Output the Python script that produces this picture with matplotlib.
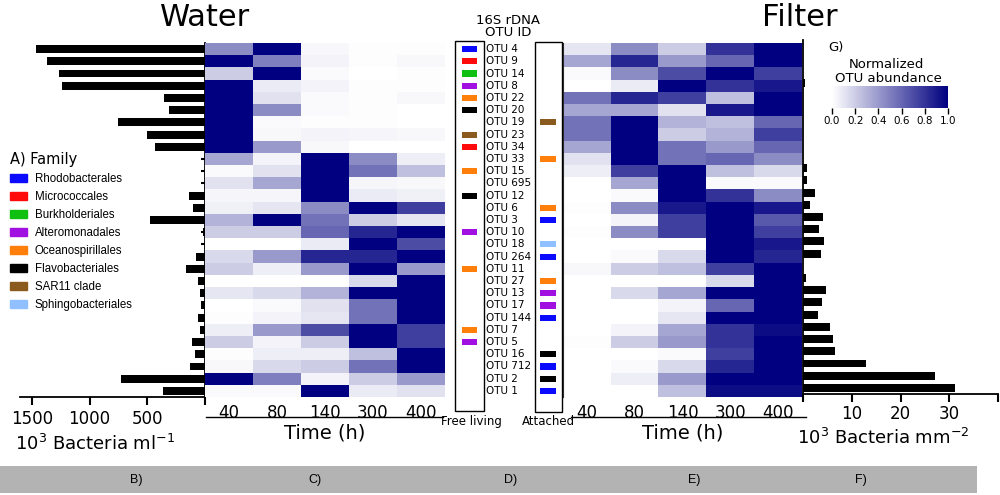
import numpy as np
import matplotlib.pyplot as plt
from matplotlib.colors import LinearSegmentedColormap, Normalize
from matplotlib.cm import ScalarMappable
from matplotlib.patches import Patch, Rectangle

otus = ['OTU 4', 'OTU 9', 'OTU 14', 'OTU 8', 'OTU 22', 'OTU 20', 'OTU 19', 'OTU 23',
        'OTU 34', 'OTU 33', 'OTU 15', 'OTU 695', 'OTU 12', 'OTU 6', 'OTU 3', 'OTU 10',
        'OTU 18', 'OTU 264', 'OTU 11', 'OTU 27', 'OTU 13', 'OTU 17', 'OTU 144', 'OTU 7',
        'OTU 5', 'OTU 16', 'OTU 712', 'OTU 2', 'OTU 1']
times = ['40', '80', '140', '300', '400']

# normalized abundance, water (free living)
water = np.array([
    [0.45, 1.00, 0.03, 0.01, 0.01],
    [1.00, 0.50, 0.05, 0.01, 0.03],
    [0.20, 1.00, 0.02, 0.00, 0.01],
    [1.00, 0.08, 0.05, 0.01, 0.01],
    [1.00, 0.12, 0.02, 0.01, 0.03],
    [1.00, 0.45, 0.02, 0.01, 0.00],
    [1.00, 0.02, 0.01, 0.01, 0.00],
    [1.00, 0.03, 0.05, 0.04, 0.03],
    [1.00, 0.40, 0.03, 0.00, 0.00],
    [0.35, 0.05, 1.00, 0.45, 0.07],
    [0.02, 0.12, 1.00, 0.55, 0.25],
    [0.12, 0.35, 1.00, 0.04, 0.03],
    [0.04, 0.04, 1.00, 0.08, 0.06],
    [0.06, 0.10, 0.45, 1.00, 0.75],
    [0.30, 1.00, 0.55, 0.20, 0.10],
    [0.20, 0.20, 0.60, 0.85, 1.00],
    [0.00, 0.00, 0.08, 1.00, 0.70],
    [0.15, 0.40, 0.85, 0.85, 1.00],
    [0.20, 0.07, 0.40, 1.00, 0.40],
    [0.00, 0.00, 0.00, 0.15, 1.00],
    [0.10, 0.15, 0.30, 1.00, 1.00],
    [0.00, 0.02, 0.12, 0.55, 1.00],
    [0.01, 0.05, 0.10, 0.55, 1.00],
    [0.07, 0.40, 0.70, 1.00, 0.75],
    [0.20, 0.05, 0.20, 1.00, 0.75],
    [0.01, 0.07, 0.07, 0.25, 1.00],
    [0.03, 0.15, 0.20, 0.55, 1.00],
    [1.00, 0.50, 0.05, 0.20, 0.40],
    [0.02, 0.02, 1.00, 0.08, 0.12],
])

# normalized abundance, filter (attached)
filt = np.array([
    [0.10, 0.45, 0.20, 0.80, 1.00],
    [0.35, 0.85, 0.40, 0.60, 1.00],
    [0.02, 0.45, 0.70, 1.00, 0.75],
    [0.00, 0.08, 1.00, 0.80, 0.90],
    [0.55, 0.85, 0.75, 0.25, 1.00],
    [0.35, 0.35, 0.12, 0.90, 1.00],
    [0.55, 1.00, 0.30, 0.25, 0.60],
    [0.55, 1.00, 0.20, 0.30, 0.75],
    [0.35, 1.00, 0.55, 0.40, 0.60],
    [0.12, 1.00, 0.55, 0.60, 0.45],
    [0.07, 0.75, 1.00, 0.25, 0.15],
    [0.00, 0.35, 1.00, 0.02, 0.02],
    [0.00, 0.02, 1.00, 0.80, 0.45],
    [0.01, 0.45, 0.90, 1.00, 0.90],
    [0.00, 0.05, 0.75, 1.00, 0.65],
    [0.01, 0.45, 0.75, 1.00, 0.75],
    [0.00, 0.00, 0.00, 1.00, 0.90],
    [0.00, 0.02, 0.15, 1.00, 0.85],
    [0.03, 0.20, 0.25, 0.75, 1.00],
    [0.00, 0.00, 0.00, 0.15, 1.00],
    [0.00, 0.15, 0.35, 1.00, 1.00],
    [0.00, 0.00, 0.05, 0.60, 1.00],
    [0.00, 0.00, 0.10, 1.00, 1.00],
    [0.00, 0.05, 0.35, 0.80, 0.95],
    [0.01, 0.20, 0.40, 0.80, 1.00],
    [0.00, 0.00, 0.02, 0.75, 1.00],
    [0.00, 0.02, 0.15, 0.85, 1.00],
    [0.00, 0.07, 0.40, 1.00, 1.00],
    [0.00, 0.00, 0.25, 0.95, 0.95],
])

water_bact = [1466, 1368, 1261, 1241, 351, 313, 753, 500, 437, 0, 0, 0, 141, 106, 474,
              20, 0, 80, 161, 63, 40, 32, 60, 40, 115, 89, 129, 730, 368]
filter_bact = [0, 0, 0, 0.5, 0, 0, 0, 0, 0, 0.1, 0.8, 0.8, 2.5, 1.4, 4.2, 3.3, 4.4, 3.6,
               0, 0.7, 4.7, 3.8, 3.1, 5.5, 6.2, 6.5, 12.9, 27.0, 31.1]

families = ['Rhodobacterales', 'Micrococcales', 'Burkholderiales', 'Alteromonadales',
            'Oceanospirillales', 'Flavobacteriales', 'SAR11 clade', 'Sphingobacteriales']
fam_colors = ['#0a0aff', '#ff0a0a', '#10c010', '#a010e0', '#ff7f0a', '#000000',
              '#8b5a1e', '#90c0ff']

free_living = ['Rhodobacterales', 'Micrococcales', 'Burkholderiales', 'Alteromonadales',
               'Oceanospirillales', 'Flavobacteriales', None, 'SAR11 clade', 'Micrococcales',
               None, 'Oceanospirillales', None, 'Flavobacteriales', None, None,
               'Alteromonadales', None, None, 'Oceanospirillales', None, None, None, None,
               'Oceanospirillales', 'Alteromonadales', None, None, None, None]
attached = [None, None, None, None, None, None, 'SAR11 clade', None, None,
            'Oceanospirillales', None, None, None, 'Oceanospirillales', 'Rhodobacterales',
            None, 'Sphingobacteriales', 'Rhodobacterales', None, 'Oceanospirillales',
            'Alteromonadales', 'Alteromonadales', 'Rhodobacterales', None, None,
            'Flavobacteriales', 'Rhodobacterales', 'Flavobacteriales', 'Rhodobacterales']

panel_labels = ['B)', 'C)', 'D)', 'E)', 'F)']

W, H = 1000, 495
fam_color = dict(zip(families, fam_colors))
cmap = LinearSegmentedColormap.from_list('wn', ['#ffffff', '#000080'])
n = len(otus)
rows = np.arange(n)


def box(x0, y0, x1, y1):
    # pixel box (top-left origin) -> figure fraction
    return [x0 / W, 1 - y1 / H, (x1 - x0) / W, (y1 - y0) / H]


def heatmap(rect, data, line_x):
    ax = fig.add_axes(rect)
    ax.imshow(data, cmap=cmap, vmin=0, vmax=1, aspect='auto', interpolation='nearest')
    ax.set_xticks(range(len(times)))
    ax.set_xticklabels(times)
    ax.set_yticks([])
    ax.tick_params(axis='x', length=0, pad=5, labelsize=12)
    for s in ax.spines.values():
        s.set_visible(False)
    ax.plot(line_x, [-0.056, -0.056], transform=ax.transAxes, color='black', lw=1,
            clip_on=False)
    ax.set_xlabel('Time (h)', fontsize=14)
    ax.xaxis.set_label_coords(0.5, -0.075)
    return ax


fig = plt.figure(figsize=(10, 4.95), dpi=100)

# B) water bacteria counts
axb = fig.add_axes(box(20, 43, 205, 397))
axb.barh(rows, water_bact, height=0.65, color='black')
axb.set_xlim(1603, 0)
axb.set_ylim(n - 0.5, -0.5)
axb.spines['left'].set_visible(False)
axb.spines['top'].set_visible(False)
axb.spines['right'].set_linewidth(1.3)
axb.spines['bottom'].set_linewidth(1.3)
axb.set_xticks([1500, 1000, 500, 0])
axb.set_xticklabels(['1500', '1000', '500', ''])
axb.tick_params(axis='x', direction='out', length=6, width=1.5, pad=3, labelsize=12)
axb.yaxis.tick_right()
axb.set_yticks(rows)
axb.set_yticklabels([])
axb.tick_params(axis='y', direction='in', length=3, width=1.5)
axb.set_xlabel(r'10$^3$ Bacteria ml$^{-1}$', fontsize=13)
axb.xaxis.set_label_coords((95 - 20) / 185, -0.105)

# C) water heatmap
axw = heatmap(box(205, 43, 445, 397), water, [0.004, 0.99])

# E) filter heatmap
axf = heatmap(box(563, 43, 802, 397), filt, [0.033, 1.017])
axf.spines['left'].set_visible(True)
axf.spines['left'].set_color('#333333')

# F) filter bacteria counts
axr = fig.add_axes(box(803, 40, 998, 394))
axr.barh(rows, filter_bact, height=0.65, color='black')
axr.set_xlim(0, 40)
axr.set_ylim(n - 0.5, -0.5)
axr.spines['right'].set_visible(False)
axr.spines['top'].set_visible(False)
axr.spines['left'].set_linewidth(1.3)
axr.spines['bottom'].set_linewidth(1.3)
axr.set_xticks([0, 10, 20, 30, 40])
axr.set_xticklabels(['', '10', '20', '30', ''])
axr.tick_params(axis='x', direction='out', length=6, width=1.5, pad=2, labelsize=12)
axr.set_yticks([])
axr.set_xlabel(r'10$^3$ Bacteria mm$^{-2}$', fontsize=13)
axr.xaxis.set_label_coords((883 - 803) / 195, -0.095)

# D) OTU ids and family markers
axm = fig.add_axes(box(450, 43, 570, 397))
axm.set_xlim(450, 570)
axm.set_ylim(n - 0.5, -0.5)
axm.axis('off')
axm.add_patch(Rectangle((455, -0.69), 29, 30.34, fill=False, lw=1, clip_on=False))
axm.add_patch(Rectangle((535, -0.61), 27, 30.34, fill=False, lw=1, clip_on=False))
for i in rows:
    if free_living[i]:
        axm.barh(i, 15, left=462, height=0.5, color=fam_color[free_living[i]])
    if attached[i]:
        axm.barh(i, 16, left=540, height=0.5, color=fam_color[attached[i]])
    axm.text(486, i, otus[i], va='center', ha='left', fontsize=7.5)

fig.text(508 / W, 1 - 24 / H, '16S rDNA', ha='center', va='baseline', fontsize=9.5)
fig.text(508 / W, 1 - 36 / H, 'OTU ID', ha='center', va='baseline', fontsize=9.5)
fig.text(471 / W, 1 - 425 / H, 'Free living', ha='center', va='baseline', fontsize=8.5)
fig.text(548 / W, 1 - 425 / H, 'Attached', ha='center', va='baseline', fontsize=8.5)

fig.text(205 / W, 1 - 26 / H, 'Water', ha='center', va='baseline', fontsize=22)
fig.text(800 / W, 1 - 26 / H, 'Filter', ha='center', va='baseline', fontsize=22)

# G) colorbar
cax = fig.add_axes(box(832, 86, 948, 108))
cb = fig.colorbar(ScalarMappable(norm=Normalize(0, 1), cmap=cmap), cax=cax,
                  orientation='horizontal', ticks=[0, 0.2, 0.4, 0.6, 0.8, 1.0])
cb.outline.set_visible(False)
cax.tick_params(labelsize=7.5, length=4, width=1, pad=1.5)
fig.text(828 / W, 1 - 51 / H, 'G)', ha='left', va='baseline', fontsize=9.5)
fig.text(886 / W, 1 - 68 / H, 'Normalized', ha='center', va='baseline', fontsize=9.5)
fig.text(888 / W, 1 - 82 / H, 'OTU abundance', ha='center', va='baseline', fontsize=9.5)

# A) family legend
handles = [Patch(facecolor=c, edgecolor=c) for c in fam_colors]
fig.legend(handles, families, loc='upper left', bbox_to_anchor=(10 / W, 1 - 152 / H),
           frameon=False, title='A) Family', alignment='left',
           prop={'family': 'Liberation Sans', 'size': 8.3},
           title_fontproperties={'size': 10.5},
           handlelength=1.45, handleheight=0.8, handletextpad=0.7, labelspacing=0.52,
           borderpad=0, borderaxespad=0)

# bottom panel band
axband = fig.add_axes(box(0, 466, 977, 493))
axband.set_facecolor('#b3b3b3')
axband.set_xlim(0, 977)
axband.set_ylim(0, 1)
axband.set_xticks([])
axband.set_yticks([])
for s in axband.spines.values():
    s.set_visible(False)
for lab, x in zip(panel_labels, [136, 315, 511, 694, 861]):
    axband.text(x, 0.5, lab, ha='center', va='center', fontsize=9,
                family='Liberation Sans')

fig.savefig('out.png', dpi=100)
